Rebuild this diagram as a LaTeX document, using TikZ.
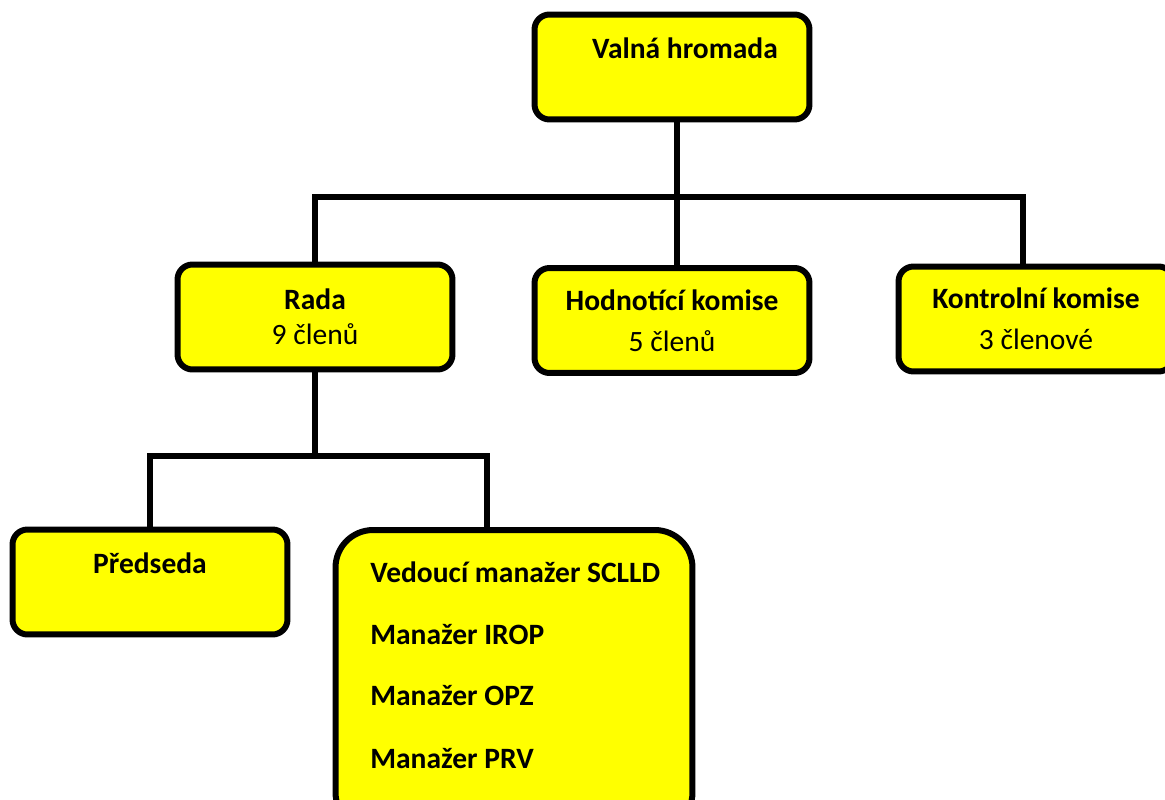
\documentclass[tikz,border=0pt]{standalone}
\usepackage{fontspec}
\setmainfont{Carlito}
\usetikzlibrary{positioning}

\definecolor{boxyellow}{RGB}{255,255,0}

\tikzset{
	box/.style={draw, line width=0.12cm, fill=boxyellow, rounded corners=0.3cm,
		minimum width=5.5cm, minimum height=2.1cm, inner sep=0pt, align=center,
		font=\fontsize{16.8}{19.9}\selectfont},
	wire/.style={line width=0.12cm},
	lbl/.style={inner sep=0pt, font=\bfseries\fontsize{16.8}{19.9}\selectfont},
}

\begin{document}
\begin{tikzpicture}[x=0.02cm, y=-0.02cm]
	\useasboundingbox (0,0) rectangle (1165,800);

	% top level
	\node[box] (valna) at (672,67) {};
	\node[lbl, anchor=base] (valnaT) at (685,59) {Valná hromada};

	% second level
	\node[box] (rada) at (315,317) {\textbf{Rada}\\9 členů};
	\node[box] (hodn) at (672,320.5) {\textbf{Hodnotící komise}\\[0.12cm]5 členů};
	\node[box] (kontrol) at (1036,319) {\textbf{Kontrolní komise}\\[0.12cm]3 členové};

	% third level
	\node[box] (predseda) at (150,582) {};
	\node[lbl, anchor=base] (predsedaT) at (150,573) {Předseda};
	\node[box, minimum width=7.14cm, minimum height=6cm, rounded corners=0.75cm] (manazeri) at (514,680) {};

	\foreach \n/\y/\t in {1/582/Vedoucí manažer SCLLD, 2/644/Manažer IROP, 3/705/Manažer OPZ, 4/768/Manažer PRV} {
		\node[lbl, anchor=base west] (man\n) at (370,\y) {\t};
	};

	% connectors
	\coordinate (bus) at (677,197);
	\coordinate (kbus) at (1023,197);
	\draw[wire] (valna.south -| bus) -- (bus);
	\draw[wire] (rada.north) |- (kbus) -- (kbus |- kontrol.north);
	\draw[wire] (bus) -- (hodn.north -| bus);

	\coordinate (rbus) at (315,456);
	\coordinate (mbus) at (487,456);
	\draw[wire] (rada.south) -- (rbus);
	\draw[wire] (predseda.north) |- (mbus) -- (mbus |- manazeri.north);
\end{tikzpicture}
\end{document}
